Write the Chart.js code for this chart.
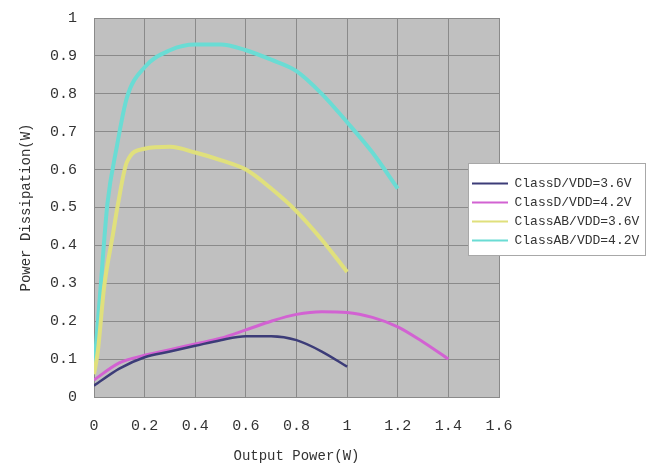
<!DOCTYPE html>
<html>
<head>
<meta charset="utf-8">
<script src="https://cdn.jsdelivr.net/npm/chart.js@4/dist/chart.umd.min.js"></script>
<style>
	html, body { margin: 0; padding: 0; background: #fff; }
</style>
</head>
<body>
<canvas id="powerChart" width="657" height="473"></canvas>
<script>
// series labels
const seriesNames = ['ClassD/VDD=3.6V', 'ClassD/VDD=4.2V', 'ClassAB/VDD=3.6V', 'ClassAB/VDD=4.2V']

// ClassD 3.6V
const dLowX = [0, 0.1, 0.2, 0.3, 0.4, 0.5, 0.6, 0.7, 0.8, 0.9, 1.0]
const dLowY = [0.03, 0.075, 0.105, 0.12, 0.135, 0.15, 0.16, 0.16, 0.15, 0.12, 0.08]

// ClassD 4.2V
const dHighX = [0, 0.1, 0.2, 0.3, 0.4, 0.5, 0.6, 0.7, 0.8, 0.9, 1.0, 1.1, 1.2, 1.3, 1.4]
const dHighY = [0.045, 0.09, 0.11, 0.125, 0.14, 0.155, 0.177, 0.2, 0.218, 0.225, 0.223, 0.21, 0.185, 0.145, 0.1]

// ClassAB 3.6V
const abLowX = [0, 0.015, 0.04, 0.075, 0.095, 0.13, 0.2, 0.3, 0.4, 0.5, 0.6, 0.7, 0.8, 0.9, 1.0]
const abLowY = [0.06, 0.12, 0.29, 0.43, 0.51, 0.62, 0.655, 0.66, 0.645, 0.625, 0.6, 0.55, 0.49, 0.415, 0.33]

// ClassAB 4.2V
const abHighX = [0, 0.025, 0.053, 0.09, 0.13, 0.2, 0.3, 0.4, 0.5, 0.6, 0.7, 0.8, 0.9, 1.0, 1.1, 1.2]
const abHighY = [0.07, 0.28, 0.51, 0.66, 0.79, 0.87, 0.915, 0.93, 0.93, 0.915, 0.89, 0.86, 0.8, 0.725, 0.645, 0.55]

const colors = ['#3c3c78', '#d262d2', '#e0e07c', '#6adcd4']
const widths = [2.5, 3, 4, 4]

const toPoints = (xs, ys) => xs.map((x, i) => ({ x: x, y: ys[i] }))
const series = [
	toPoints(dLowX, dLowY),
	toPoints(dHighX, dHighY),
	toPoints(abLowX, abLowY),
	toPoints(abHighX, abHighY),
]

const tickFont = { family: 'Liberation Mono', size: 15 }
// "1" rather than "1.0"
const fmt = (v) => String(Number(v.toFixed(1)))

// grey plot background
const plotBg = {
	id: 'plotBg',
	beforeDraw(chart) {
		const { ctx, chartArea: a } = chart
		ctx.save()
		ctx.fillStyle = '#c0c0c0'
		ctx.fillRect(a.left, a.top, a.right - a.left, a.bottom - a.top)
		ctx.restore()
	},
}

// move legend onto the right edge with a white box behind it
const legendBox = {
	id: 'legendBox',
	afterLayout(chart) {
		const lg = chart.legend
		const w = lg.width, h = lg.height
		lg.left = 466
		lg.top = 171
		lg.right = lg.left + w
		lg.bottom = lg.top + h
		if (!lg._boxed) {
			const orig = lg.draw
			lg.draw = function () {
				const ctx = this.ctx
				ctx.save()
				ctx.fillStyle = '#ffffff'
				ctx.fillRect(468, 163, 177, 92)
				ctx.strokeStyle = '#a8a8a8'
				ctx.lineWidth = 1
				ctx.strokeRect(468.5, 163.5, 177, 92)
				ctx.restore()
				orig.call(this)
			}
			lg._boxed = true
		}
	},
}

const ctx = document.getElementById('powerChart').getContext('2d')
const powerChart = new Chart(ctx, {
	type: 'line',
	data: {
		datasets: series.map((pts, i) => ({
			label: seriesNames[i],
			data: pts,
			borderColor: colors[i],
			backgroundColor: colors[i],
			borderWidth: widths[i],
			pointRadius: 0,
			pointBorderWidth: 2,
			pointStyle: 'line',
			cubicInterpolationMode: 'monotone',
			fill: false,
		})),
	},
	options: {
		responsive: false,
		animation: false,
		layout: { padding: { top: 18, right: 158, bottom: 5, left: 10 } },
		plugins: {
			legend: {
				position: 'chartArea',
				align: 'start',
				labels: {
					usePointStyle: true,
					pointStyleWidth: 36,
					boxHeight: 12,
					padding: 6,
					color: '#333',
					font: { family: 'Liberation Mono', size: 13 },
				},
			},
			tooltip: { enabled: false },
		},
		scales: {
			x: {
				type: 'linear',
				min: 0,
				max: 1.6,
				ticks: { stepSize: 0.2, padding: 20, color: '#333', font: tickFont, maxRotation: 0, callback: fmt },
				grid: { color: '#8a8a8a', drawTicks: false, z: -1 },
				border: { color: '#8a8a8a', z: -1 },
				title: {
					display: true,
					text: 'Output Power(W)',
					color: '#333',
					font: { family: 'Liberation Mono', size: 14 },
					padding: { top: 0, bottom: 3 },
				},
				afterFit(scale) { scale.height = 71 },
			},
			y: {
				min: 0,
				max: 1,
				ticks: { stepSize: 0.1, padding: 17, color: '#333', font: tickFont, callback: fmt },
				grid: { color: '#8a8a8a', drawTicks: false, z: -1 },
				border: { color: '#8a8a8a', z: -1 },
				title: {
					display: true,
					text: 'Power Dissipation(W)',
					color: '#333',
					font: { family: 'Liberation Mono', size: 14 },
					padding: { top: 8, bottom: 0 },
				},
				afterFit(scale) {
					scale.width = 84
					scale.paddingTop = 0
					scale.paddingBottom = 0
				},
			},
		},
	},
	plugins: [plotBg, legendBox],
})
</script>
</body>
</html>
